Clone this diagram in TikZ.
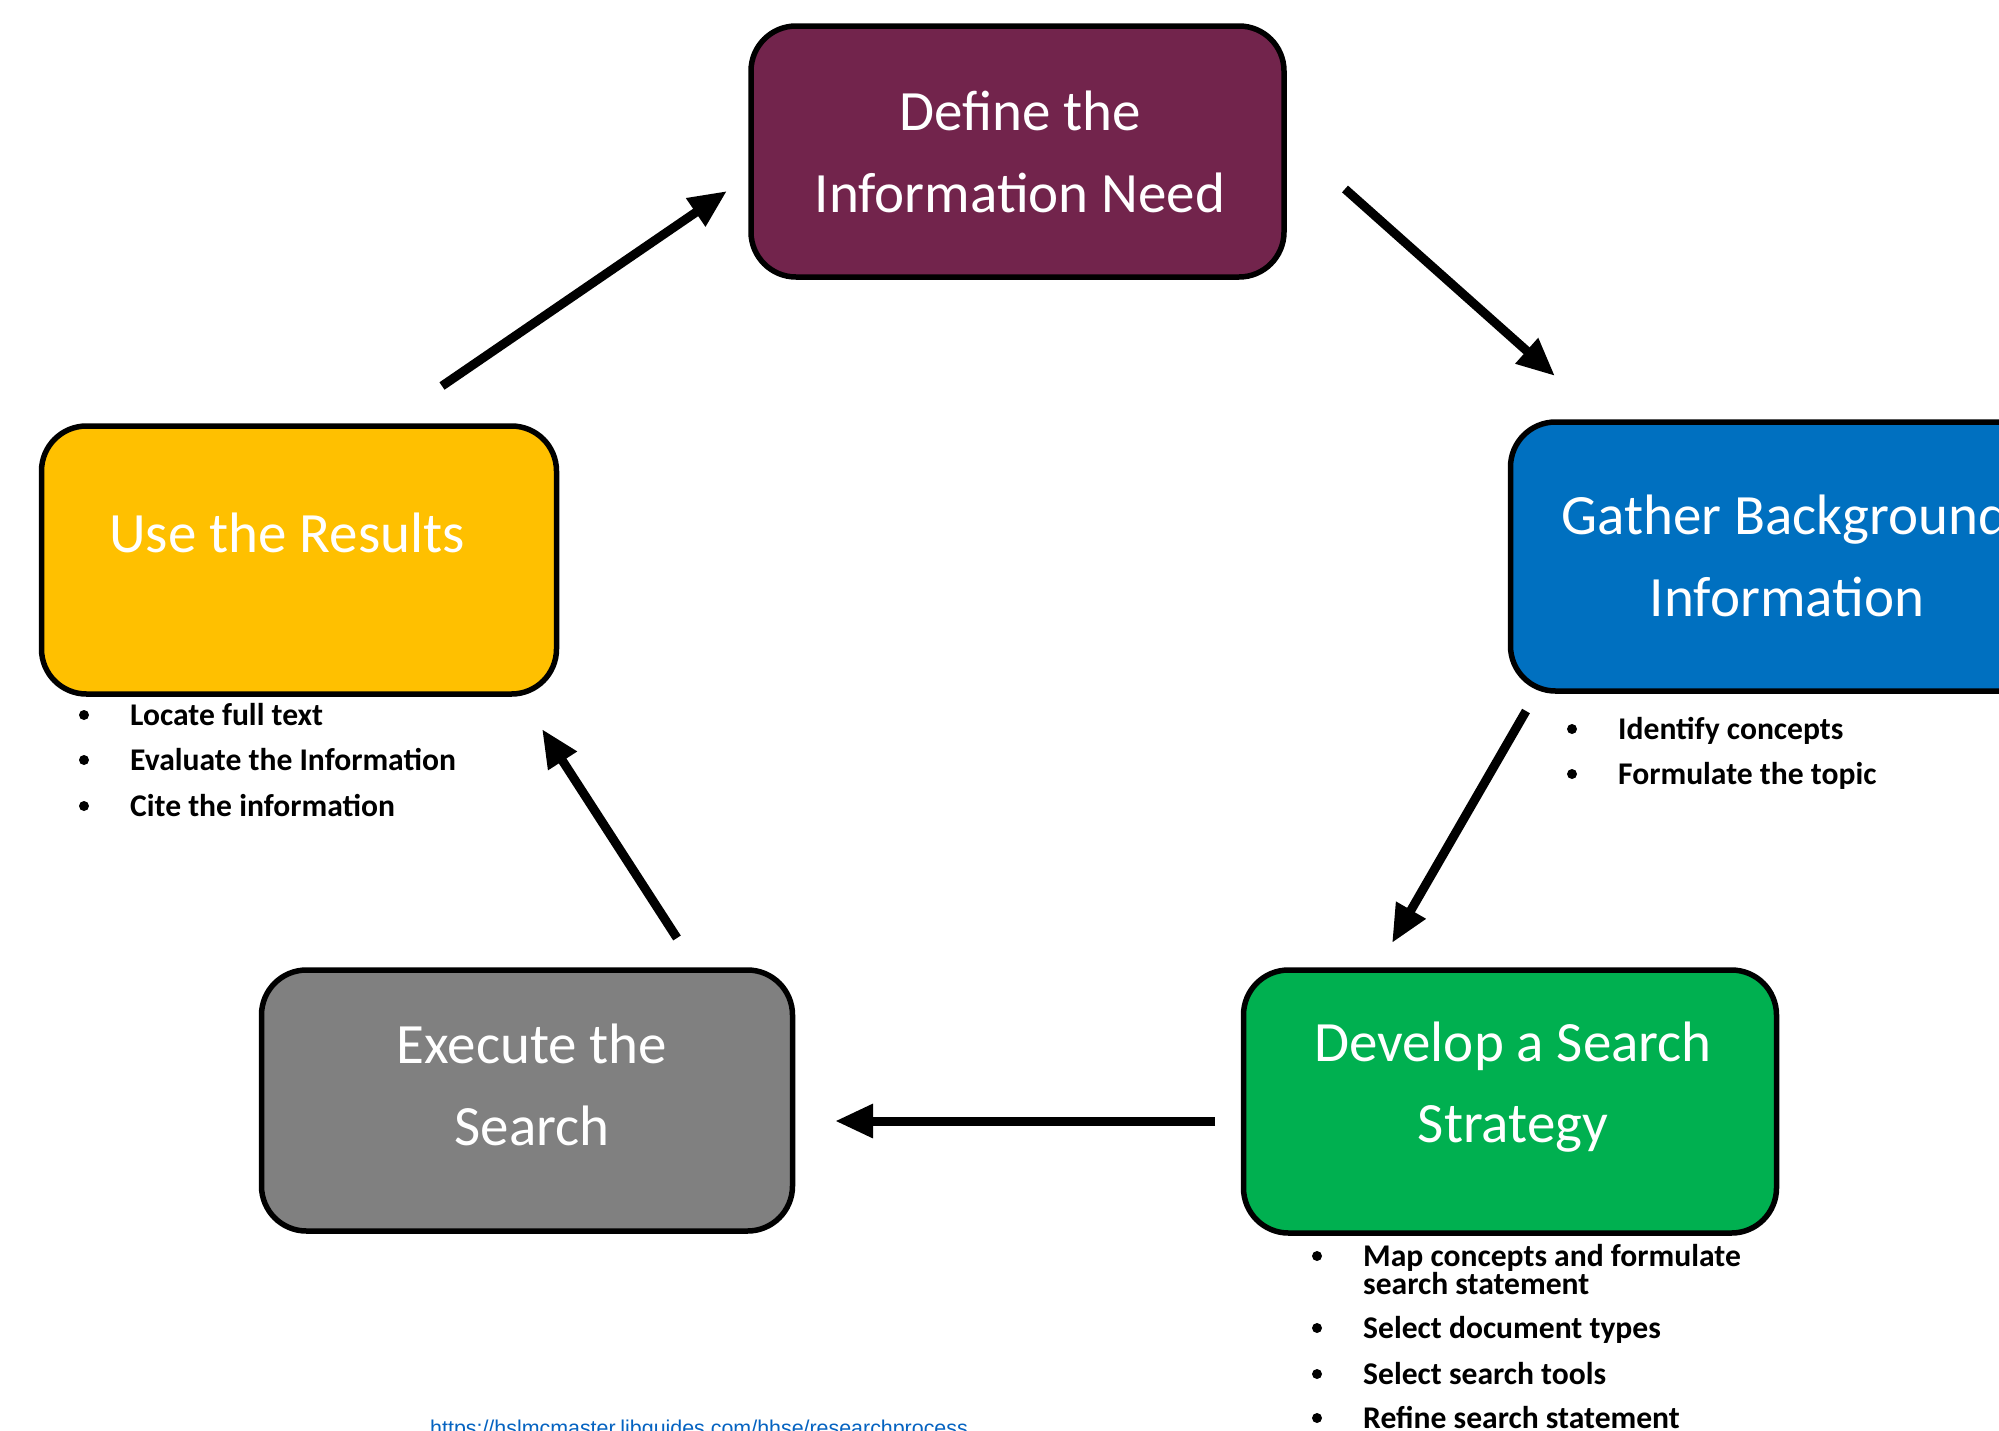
\documentclass[tikz,border=0pt]{standalone}
\usepackage{fontspec}
\setmainfont{Carlito}
\newfontfamily\urlfont{Liberation Sans}
\usetikzlibrary{arrows.meta}
\definecolor{cpurple}{HTML}{72244C}
\definecolor{cblue}{HTML}{0070C0}
\definecolor{cyellow}{HTML}{FFC000}
\definecolor{cgrey}{HTML}{808080}
\definecolor{cgreen}{HTML}{00B050}
\definecolor{clink}{HTML}{0563C1}
\begin{document}
\begin{tikzpicture}[x=1pt,y=-1pt,
  box/.style={draw=black, line width=5.5pt, rounded corners=45pt, inner sep=0pt},
  title/.style={text=white, font=\fontsize{57}{60}\selectfont, anchor=base, inner sep=0pt},
  item/.style={text=black, font=\fontsize{31.6}{32}\selectfont\bfseries, anchor=base west, inner sep=0pt},
  arr/.style={line width=9pt, -{Triangle[length=38pt,width=32pt]}}]
\useasboundingbox (0,0) rectangle (1999,1430);
\fill[white] (0,0) rectangle (1999,1430);

% boxes
\node[box, fill=cpurple, minimum width=533pt, minimum height=251pt] (define) at (1017.5,151.5) {};
\node[box, fill=cblue, minimum width=541pt, minimum height=269pt] (gather) at (1781,556.5) {};
\node[box, fill=cyellow, minimum width=515pt, minimum height=268pt] (use) at (299,560) {};
\node[box, fill=cgrey, minimum width=531pt, minimum height=261pt] (execute) at (527,1100.5) {};
\node[box, fill=cgreen, minimum width=533pt, minimum height=263pt] (develop) at (1510,1101.5) {};

% titles
\node[title] (define1) at (1020,130) {Define the};
\node[title] (define2) at (1020,212) {Information Need};
\node[title] (gather1) at (1785,534) {Gather Background};
\node[title] (gather2) at (1787,616) {Information};
\node[title] (use1) at (287,552) {Use the Results};
\node[title] (exec1) at (532,1063) {Execute the};
\node[title] (exec2) at (532,1145) {Search};
\node[title] (dev1) at (1513,1061) {Develop a Search};
\node[title] (dev2) at (1513,1142) {Strategy};

% bullet lists
\foreach \y in {715,760,806} \fill (84,\y) circle (5pt);
\node[item] (u1) at (130,725) {Locate full text};
\node[item] (u2) at (130,770) {Evaluate the Information};
\node[item] (u3) at (130,816) {Cite the information};

\foreach \y in {729,774} \fill (1572,\y) circle (5pt);
\node[item] (g1) at (1618,739) {Identify concepts};
\node[item] (g2) at (1618,784) {Formulate the topic};

\foreach \y in {1256,1328,1374,1418} \fill (1317,\y) circle (5pt);
\node[item] (d1) at (1363,1266) {Map concepts and formulate};
\node[item] (d1b) at (1363,1294) {search statement};
\node[item] (d2) at (1363,1338) {Select document types};
\node[item] (d3) at (1363,1384) {Select search tools};
\node[item] (d4) at (1363,1428) {Refine search statement};

% URL (cut by page edge)
\node[anchor=base west, inner sep=0pt, text=clink, font=\urlfont\fontsize{21.4}{22}\selectfont] (url) at (430,1435) {https://hslmcmaster.libguides.com/hhse/researchprocess};

% arrows
\coordinate (a1s) at (442,386);  \coordinate (a1e) at (727,191);
\coordinate (a2s) at (1345,189); \coordinate (a2e) at (1555,376);
\coordinate (a3s) at (1526,711); \coordinate (a3e) at (1392,943);
\coordinate (a4s) at (1215,1121); \coordinate (a4e) at (835,1121);
\coordinate (a5s) at (677,938);  \coordinate (a5e) at (542,729);
\draw[arr] (a1s) -- (a1e);
\draw[arr] (a2s) -- (a2e);
\draw[arr] (a3s) -- (a3e);
\draw[arr] (a4s) -- (a4e);
\draw[arr] (a5s) -- (a5e);
\end{tikzpicture}
\end{document}
